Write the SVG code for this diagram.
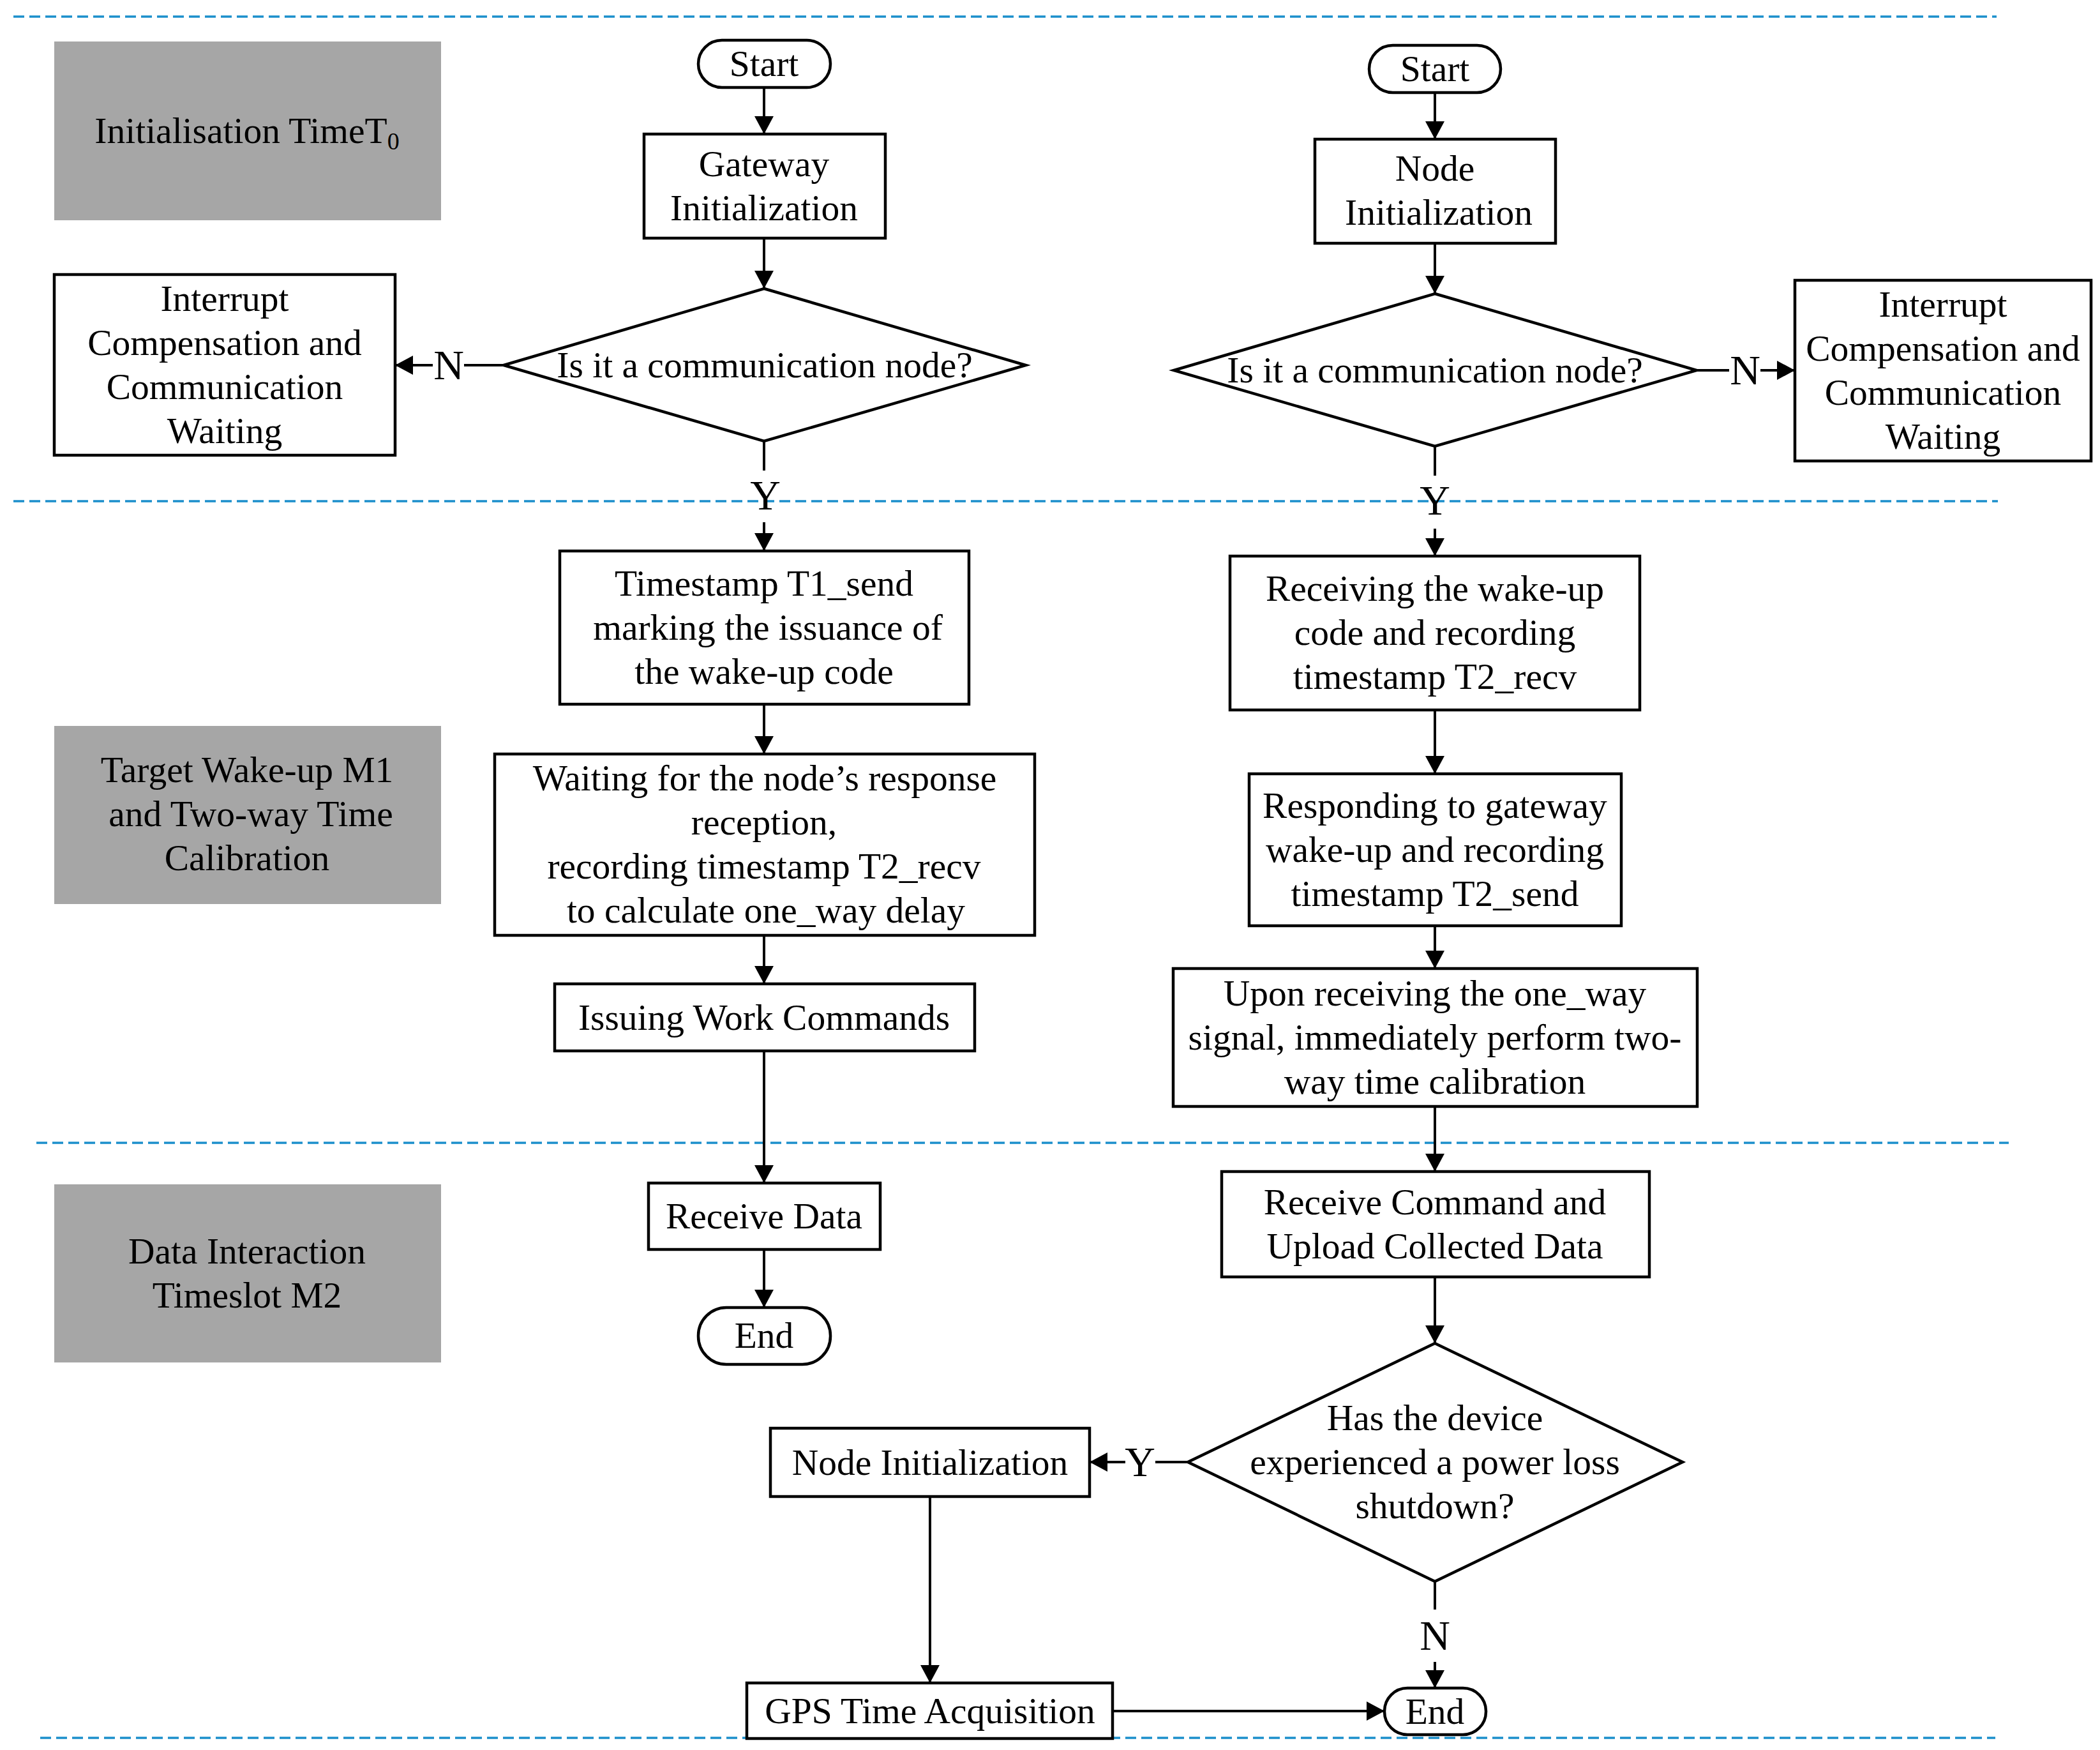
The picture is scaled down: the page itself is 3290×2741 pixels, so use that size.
<svg xmlns="http://www.w3.org/2000/svg" width="3290" height="2741" viewBox="0 0 3290 2741">
<defs>
<marker id="ah" markerUnits="userSpaceOnUse" markerWidth="30" markerHeight="30" refX="28" refY="15" orient="auto">
<path d="M0,0 L28,15 L0,30 Z" fill="#000"/>
</marker>
<style>
text{font-family:"Liberation Serif","Times New Roman",serif;font-size:57.5px;fill:#000;text-anchor:middle}
.lbl{font-size:66px}
.box{fill:#fff;stroke:#000;stroke-width:4.5}
.gray{fill:#a6a6a6;stroke:none}
.con{fill:none;stroke:#000;stroke-width:4}
.arr{fill:none;stroke:#000;stroke-width:4;marker-end:url(#ah)}
.dash{fill:none;stroke:#1b8fcb;stroke-width:3.5;stroke-dasharray:17 8}
</style>
</defs>
<rect width="3290" height="2741" fill="#fff"/>
<g id="separators">
<line class="dash" x1="21" y1="26" x2="3128" y2="26"/>
<line class="dash" x1="21" y1="785" x2="3130" y2="785"/>
<line class="dash" x1="57" y1="1790" x2="3147" y2="1790"/>
<line class="dash" x1="63" y1="2722" x2="3126" y2="2722"/>
</g>
<g id="phase-init">
<rect class="gray" x="85" y="65" width="606" height="280"/>
<text x="387" y="224">Initialisation TimeT<tspan font-size="38" dy="10">0</tspan></text>
</g>
<g id="phase-wakeup">
<rect class="gray" x="85" y="1137" width="606" height="279"/>
<text x="387" y="1225">Target Wake-up M1</text>
<text x="393" y="1294">and Two-way Time</text>
<text x="387" y="1363">Calibration</text>
</g>
<g id="phase-data">
<rect class="gray" x="85" y="1855" width="606" height="279"/>
<text x="387" y="1979">Data Interaction</text>
<text x="387" y="2048">Timeslot M2</text>
</g>
<g id="connectors">
<line class="arr" x1="1197" y1="137" x2="1197" y2="210"/>
<line class="arr" x1="1197" y1="373" x2="1197" y2="452"/>
<line class="con" x1="790" y1="572" x2="727" y2="572"/>
<line class="arr" x1="678" y1="572" x2="619" y2="572"/>
<line class="con" x1="1197" y1="691" x2="1197" y2="737"/>
<line class="arr" x1="1197" y1="818" x2="1197" y2="863"/>
<line class="arr" x1="1197" y1="1103" x2="1197" y2="1181"/>
<line class="arr" x1="1197" y1="1465" x2="1197" y2="1541"/>
<line class="arr" x1="1197" y1="1646" x2="1197" y2="1853"/>
<line class="arr" x1="1197" y1="1957" x2="1197" y2="2048"/>
<line class="arr" x1="2248" y1="145" x2="2248" y2="218"/>
<line class="arr" x1="2248" y1="381" x2="2248" y2="460"/>
<line class="con" x1="2658" y1="580" x2="2709" y2="580"/>
<line class="arr" x1="2758" y1="580" x2="2812" y2="580"/>
<line class="con" x1="2248" y1="699" x2="2248" y2="745"/>
<line class="arr" x1="2248" y1="828" x2="2248" y2="871"/>
<line class="arr" x1="2248" y1="1112" x2="2248" y2="1212"/>
<line class="arr" x1="2248" y1="1450" x2="2248" y2="1517"/>
<line class="arr" x1="2248" y1="1733" x2="2248" y2="1835"/>
<line class="arr" x1="2248" y1="2000" x2="2248" y2="2104"/>
<line class="con" x1="1861" y1="2290" x2="1810" y2="2290"/>
<line class="arr" x1="1763" y1="2290" x2="1707" y2="2290"/>
<line class="con" x1="2248" y1="2477" x2="2248" y2="2521"/>
<line class="arr" x1="2248" y1="2603" x2="2248" y2="2644"/>
<line class="arr" x1="1457" y1="2344" x2="1457" y2="2636"/>
<line class="arr" x1="1743" y1="2680" x2="2169" y2="2680"/>
<text class="lbl" x="703" y="594">N</text>
<text class="lbl" x="1199" y="798">Y</text>
<text class="lbl" x="2734" y="602">N</text>
<text class="lbl" x="2248" y="806">Y</text>
<text class="lbl" x="1786" y="2312">Y</text>
<text class="lbl" x="2248" y="2584">N</text>
</g>
<g id="gw-start">
<rect class="box" x="1094" y="63" width="207" height="74" rx="37"/>
<text x="1197" y="119">Start</text>
</g>
<g id="gw-init">
<rect class="box" x="1009" y="210" width="378" height="163"/>
<text x="1197" y="276">Gateway</text>
<text x="1197" y="345">Initialization</text>
</g>
<g id="gw-decision">
<polygon class="box" points="1197,452 1607,572 1197,691 789,572"/>
<text x="1198" y="591">Is it a communication node?</text>
</g>
<g id="gw-interrupt">
<rect class="box" x="85" y="430" width="534" height="283"/>
<text x="352" y="487">Interrupt</text>
<text x="352" y="556">Compensation and</text>
<text x="352" y="625">Communication</text>
<text x="352" y="694">Waiting</text>
</g>
<g id="gw-t1">
<rect class="box" x="877" y="863" width="641" height="240"/>
<text x="1197" y="933">Timestamp T1_send</text>
<text x="1203" y="1002">marking the issuance of</text>
<text x="1197" y="1071">the wake-up code</text>
</g>
<g id="gw-wait">
<rect class="box" x="775" y="1181" width="846" height="284"/>
<text x="1198" y="1238">Waiting for the node’s response</text>
<text x="1197" y="1307">reception,</text>
<text x="1197" y="1376">recording timestamp T2_recv</text>
<text x="1200" y="1445">to calculate one_way delay</text>
</g>
<g id="gw-issue">
<rect class="box" x="869" y="1541" width="658" height="105"/>
<text x="1197" y="1613">Issuing Work Commands</text>
</g>
<g id="gw-receive">
<rect class="box" x="1016" y="1853" width="363" height="104"/>
<text x="1197" y="1924">Receive Data</text>
</g>
<g id="gw-end">
<rect class="box" x="1094" y="2048" width="207" height="89" rx="44"/>
<text x="1197" y="2111">End</text>
</g>
<g id="nd-start">
<rect class="box" x="2145" y="71" width="206" height="74" rx="37"/>
<text x="2248" y="127">Start</text>
</g>
<g id="nd-init">
<rect class="box" x="2060" y="218" width="377" height="163"/>
<text x="2248" y="283">Node</text>
<text x="2254" y="352">Initialization</text>
</g>
<g id="nd-decision">
<polygon class="box" points="2248,460 2658,580 2248,699 1839,580"/>
<text x="2248" y="599">Is it a communication node?</text>
</g>
<g id="nd-interrupt">
<rect class="box" x="2812" y="439" width="464" height="283"/>
<text x="3044" y="496">Interrupt</text>
<text x="3044" y="565">Compensation and</text>
<text x="3044" y="634">Communication</text>
<text x="3044" y="703">Waiting</text>
</g>
<g id="nd-receiving">
<rect class="box" x="1927" y="871" width="642" height="241"/>
<text x="2248" y="941">Receiving the wake-up</text>
<text x="2248" y="1010">code and recording</text>
<text x="2248" y="1079">timestamp T2_recv</text>
</g>
<g id="nd-responding">
<rect class="box" x="1957" y="1212" width="583" height="238"/>
<text x="2248" y="1281">Responding to gateway</text>
<text x="2248" y="1350">wake-up and recording</text>
<text x="2248" y="1419">timestamp T2_send</text>
</g>
<g id="nd-calibrate">
<rect class="box" x="1838" y="1517" width="821" height="216"/>
<text x="2248" y="1575">Upon receiving the one_way</text>
<text x="2248" y="1644">signal, immediately perform two-</text>
<text x="2248" y="1713">way time calibration</text>
</g>
<g id="nd-upload">
<rect class="box" x="1914" y="1835" width="670" height="165"/>
<text x="2248" y="1902">Receive Command and</text>
<text x="2248" y="1971">Upload Collected Data</text>
</g>
<g id="nd-powerloss">
<polygon class="box" points="2248,2104 2636,2290 2248,2477 1861,2290"/>
<text x="2248" y="2240">Has the device</text>
<text x="2248" y="2309">experienced a power loss</text>
<text x="2248" y="2378">shutdown?</text>
</g>
<g id="nd-reinit">
<rect class="box" x="1207" y="2237" width="500" height="107"/>
<text x="1457" y="2310">Node Initialization</text>
</g>
<g id="nd-gps">
<rect class="box" x="1170" y="2636" width="573" height="87"/>
<text x="1457" y="2699">GPS Time Acquisition</text>
</g>
<g id="nd-end">
<rect class="box" x="2169" y="2644" width="159" height="73" rx="36"/>
<text x="2248" y="2700">End</text>
</g>
</svg>
